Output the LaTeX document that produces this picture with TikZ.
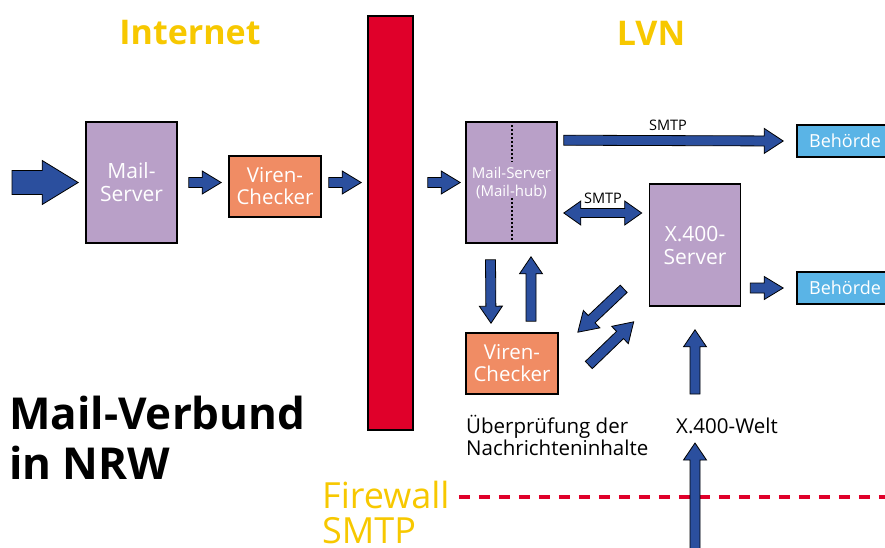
\documentclass[tikz,border=0pt]{standalone}
\usepackage{fontspec}
\setmainfont{Open Sans}
\usetikzlibrary{calc}

\definecolor{lila}{HTML}{B9A0C8}
\definecolor{orange}{HTML}{F08C64}
\definecolor{pfeilblau}{HTML}{2B4F9E}
\definecolor{hellblau}{HTML}{5AB4E6}
\definecolor{wandrot}{HTML}{E0002A}
\definecolor{gelb}{HTML}{F7C800}

% block arrow: start, end, shaft half width, head half width, head length
\newcommand{\blockarrow}[5]{%
  \coordinate (ba-s) at (#1);
  \coordinate (ba-t) at (#2);
  \coordinate (ba-b) at ($(ba-t)!#5!(ba-s)$);
  \draw[fatarrow] ($(ba-s)!#3!90:(ba-t)$) -- ($(ba-b)!#3!90:(ba-t)$)
    -- ($(ba-b)!#4!90:(ba-t)$) -- (ba-t) -- ($(ba-b)!#4!-90:(ba-t)$)
    -- ($(ba-b)!#3!-90:(ba-t)$) -- ($(ba-s)!#3!-90:(ba-t)$) -- cycle;
}
% same with two heads
\newcommand{\dblarrow}[5]{%
  \coordinate (da-s) at (#1);
  \coordinate (da-t) at (#2);
  \coordinate (da-a) at ($(da-s)!#5!(da-t)$);
  \coordinate (da-b) at ($(da-t)!#5!(da-s)$);
  \draw[fatarrow] (da-s) -- ($(da-a)!#4!90:(da-t)$) -- ($(da-a)!#3!90:(da-t)$)
    -- ($(da-b)!#3!90:(da-t)$) -- ($(da-b)!#4!90:(da-t)$) -- (da-t)
    -- ($(da-b)!#4!-90:(da-t)$) -- ($(da-b)!#3!-90:(da-t)$)
    -- ($(da-a)!#3!-90:(da-t)$) -- ($(da-a)!#4!-90:(da-t)$) -- cycle;
}

\begin{document}
\begin{tikzpicture}[x=1pt, y=-1pt,
    fatarrow/.style={draw=black, line width=0.8pt, fill=pfeilblau, line join=miter},
    server/.style={draw=black, line width=1.6pt, fill=lila, text=white, align=center,
      minimum width=91pt, minimum height=121pt, inner sep=0pt,
      font=\fontsize{21}{23}\selectfont},
    checker/.style={draw=black, line width=1.6pt, fill=orange, text=white, align=center,
      minimum width=92pt, minimum height=61pt, inner sep=0pt,
      font=\fontsize{20.5}{22}\selectfont},
    behoerde/.style={draw=black, line width=1.6pt, fill=hellblau, text=white,
      minimum width=96pt, minimum height=32pt, inner sep=0pt,
      font=\fontsize{18}{19}\selectfont},
    titel/.style={text=gelb, font=\fontsize{34}{40}\selectfont\bfseries},
    gelbtext/.style={text=gelb, anchor=base west, inner sep=0pt, font=\fontsize{36}{40}\selectfont},
    klein/.style={font=\fontsize{14.5}{16}\selectfont, inner sep=0pt},
    notiz/.style={anchor=base west, align=left, inner sep=0pt, font=\fontsize{20.5}{22}\selectfont}]
    \useasboundingbox (0,0) rectangle (885,547);

    % Titles
    \node[titel] (inet) at (190,33) {Internet};
    \node[titel] (lvn) at (651,33) {LVN};
    \node[anchor=base west, align=left, inner sep=0pt,
      font=\fontsize{44}{50}\selectfont\bfseries] (verbund) at (9,479) {Mail-Verbund\\in NRW};

    % Boxes
    \node[server] (mailsrv) at (131.5,182.5) {Mail-\\Server};
    \node[checker] (viren) at (275,186.5) {Viren-\\Checker};
    \node[draw=black, line width=1.6pt, fill=wandrot, minimum width=45pt,
      minimum height=414pt] (wall) at (390.5,223) {};
    \node[server, font=\fontsize{15}{18}\selectfont] (hub) at (511.5,182.5) {Mail-Server\\(Mail-hub)};
    \node[server, minimum height=122pt] (x400) at (695,245) {X.400-\\Server};
    \node[checker] (viren2) at (512,363.5) {Viren-\\Checker};
    \node[behoerde] (beh1) at (845,141) {Behörde};
    \node[behoerde] (beh2) at (845,288) {Behörde};

    % dotted split of the hub
    \draw[line width=2pt, dash pattern=on 2pt off 2pt] (hub.north) -- ++(0,41);
    \draw[line width=2pt, dash pattern=on 2pt off 2pt] (hub.south) -- ++(0,-46);

    % Texts
    \node[klein] (smtp1) at (668,125) {SMTP};
    \node[klein] (smtp2) at (603,198) {SMTP};
    \node[notiz] (pruef) at (466,455) {Überprüfung der\\Nachrichteninhalte};
    \node[notiz] (welt) at (676,433) {X.400-Welt};
    \node[gelbtext] (fw) at (322,508) {Firewall};
    \node[gelbtext] (fwsmtp) at (322,543) {SMTP};

    % Firewall line
    \coordinate (fwend) at (890,497);
    \draw[wandrot, line width=4pt, dash pattern=on 11pt off 9pt] ($(fw.east |- fwend)+(9,0)$) -- (fwend);

    % Arrows
    \coordinate (inlet) at (12,182.5);
    \blockarrow{inlet}{$(mailsrv.west)+(-7,0)$}{12pt}{22pt}{36pt}
    \blockarrow{$(mailsrv.east)+(11,0)$}{$(viren.west |- mailsrv.east)+(-7,0)$}{5pt}{11.5pt}{19pt}
    \blockarrow{$(viren.east |- mailsrv.east)+(7,0)$}{$(wall.west |- mailsrv.east)+(-6,0)$}{5pt}{11.5pt}{19pt}
    \blockarrow{$(wall.east |- hub.west)+(14,0)$}{$(hub.west)+(-5,0)$}{5pt}{11.5pt}{19pt}
    \blockarrow{$(hub.north east)+(6,19)$}{$(beh1.west)+(-13,0)$}{5pt}{12.5pt}{19pt}
    \dblarrow{$(hub.east)+(6,30.5)$}{$(x400.west)+(-7,-32)$}{4.5pt}{12pt}{17pt}
    \blockarrow{$(x400.east |- beh2.west)+(9,0)$}{$(beh2.west)+(-13,0)$}{5pt}{11.5pt}{19pt}
    \blockarrow{$(hub.south)+(-21,16)$}{$(viren2.north)+(-21,-9)$}{5pt}{11.5pt}{17pt}
    \blockarrow{$(viren2.north)+(19,-11)$}{$(hub.south)+(19.5,13)$}{5pt}{11.5pt}{17pt}
    \blockarrow{$(x400.south west)+(-25,-18)$}{$(viren2.north east)+(19,0)$}{5pt}{12pt}{19pt}
    \blockarrow{$(viren2.east)+(30,1.5)$}{$(x400.south west)+(-15,15)$}{5pt}{12pt}{19pt}
    \coordinate (weltout) at (695,394);
    \blockarrow{weltout}{$(x400.south)+(0,23)$}{5pt}{11.5pt}{17pt}
    \coordinate (weltin) at (695,550);
    \blockarrow{weltin}{695,443}{5pt}{11.5pt}{17pt}
\end{tikzpicture}
\end{document}
